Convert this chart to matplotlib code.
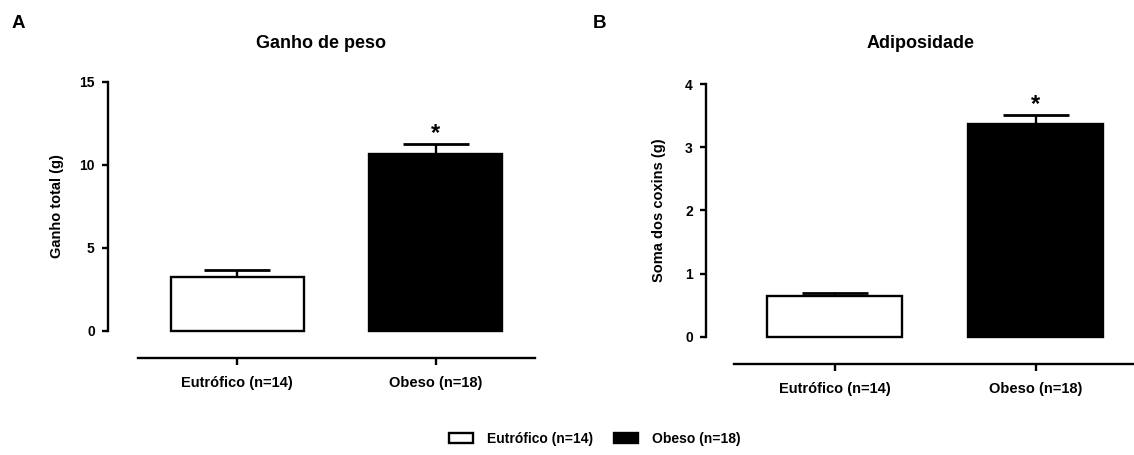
import matplotlib
matplotlib.use("Agg")
import matplotlib.pyplot as plt
from matplotlib.patches import Patch

plt.rcParams['font.family'] = ['Liberation Sans', 'DejaVu Sans']
plt.rcParams['font.weight'] = 'bold'

# Group labels and summary values (mean and SEM)
groups = ["Eutrófico (n=14)", "Obeso (n=18)"]
bar_colors = ["white", "black"]

ganho_mean = [3.25, 10.65]
ganho_sem = [0.42, 0.60]
ganho_ticks = [0, 5, 10, 15]

adip_mean = [0.645, 3.37]
adip_sem = [0.045, 0.14]
adip_ticks = [0, 1, 2, 3, 4]

significant = [False, True]

W, H = 1134, 455
fig = plt.figure(figsize=(W / 100, H / 100), dpi=100)

LW = 1.7


def panel(rect, means, sems, ticks, ylabel, title, letter, title_xy, letter_xy,
          ylabel_x, x_left, x_right_bound, outward):
    ax = fig.add_axes(rect)
    x = list(range(len(groups)))
    ax.bar(x, means, width=0.67, color=bar_colors, edgecolor="black",
           linewidth=LW, zorder=3, clip_on=False)
    ax.errorbar(x, means, yerr=[[0] * len(sems), sems], fmt="none",
                ecolor="black", elinewidth=LW, capsize=24, capthick=LW + 0.3,
                zorder=2, clip_on=False)
    for xi, m, s, sig in zip(x, means, sems, significant):
        if sig:
            ax.annotate("*", (xi, m + s), xytext=(0, 2.5),
                        textcoords="offset points", ha="center",
                        va="baseline", fontsize=17, fontweight="bold")
    ax.set_xlim(x_left, 1.5)
    ax.set_ylim(ticks[0], ticks[-1])
    ax.set_yticks(ticks)
    ax.set_xticks(x)
    ax.set_xticklabels(groups)
    for side in ("top", "right"):
        ax.spines[side].set_visible(False)
    ax.spines["left"].set_linewidth(LW)
    ax.spines["bottom"].set_linewidth(LW)
    # x axis detached below the zero line
    ax.spines["bottom"].set_position(("outward", outward))
    ax.spines["bottom"].set_bounds(-0.5, x_right_bound)
    ax.tick_params(axis="y", length=4.5, width=LW, pad=5, labelsize=10)
    ax.tick_params(axis="x", length=5, width=LW, pad=8, labelsize=10.5)
    ax.set_facecolor("none")
    fig.text(ylabel_x / W, (rect[1] + rect[3] / 2), ylabel, rotation=90,
             ha="center", va="center", fontsize=10.5, fontweight="bold")
    fig.text(title_xy[0] / W, 1 - title_xy[1] / H, title, ha="center",
             va="baseline", fontsize=13, fontweight="bold")
    fig.text(letter_xy[0] / W, 1 - letter_xy[1] / H, letter, ha="left",
             va="baseline", fontsize=13.5, fontweight="bold")
    return ax


# Panel A: weight gain
panel([108 / W, (H - 331) / H, 427 / W, 249.5 / H],
      ganho_mean, ganho_sem, ganho_ticks, "Ganho total (g)", "Ganho de peso",
      "A", (321, 47.5), (12, 28.3), 57, -0.65, 1.5, 19.5)

# Panel B: adiposity
panel([706 / W, (H - 336.7) / H, 430 / W, 252.7 / H],
      adip_mean, adip_sem, adip_ticks, "Soma dos coxins (g)", "Adiposidade",
      "B", (921, 48), (593, 28.3), 659, -0.64, 1.5, 19.5)

handles = [Patch(facecolor=c, edgecolor="black", linewidth=LW) for c in bar_colors]
fig.legend(handles, groups, loc="center", ncol=2, frameon=False,
           bbox_to_anchor=(595 / W, 1 - 439 / H),
           handlelength=1.75, handleheight=0.8, handletextpad=1.0,
           columnspacing=1.5, prop={"weight": "bold", "size": 10})

fig.savefig("out.png", dpi=100, facecolor="white")
